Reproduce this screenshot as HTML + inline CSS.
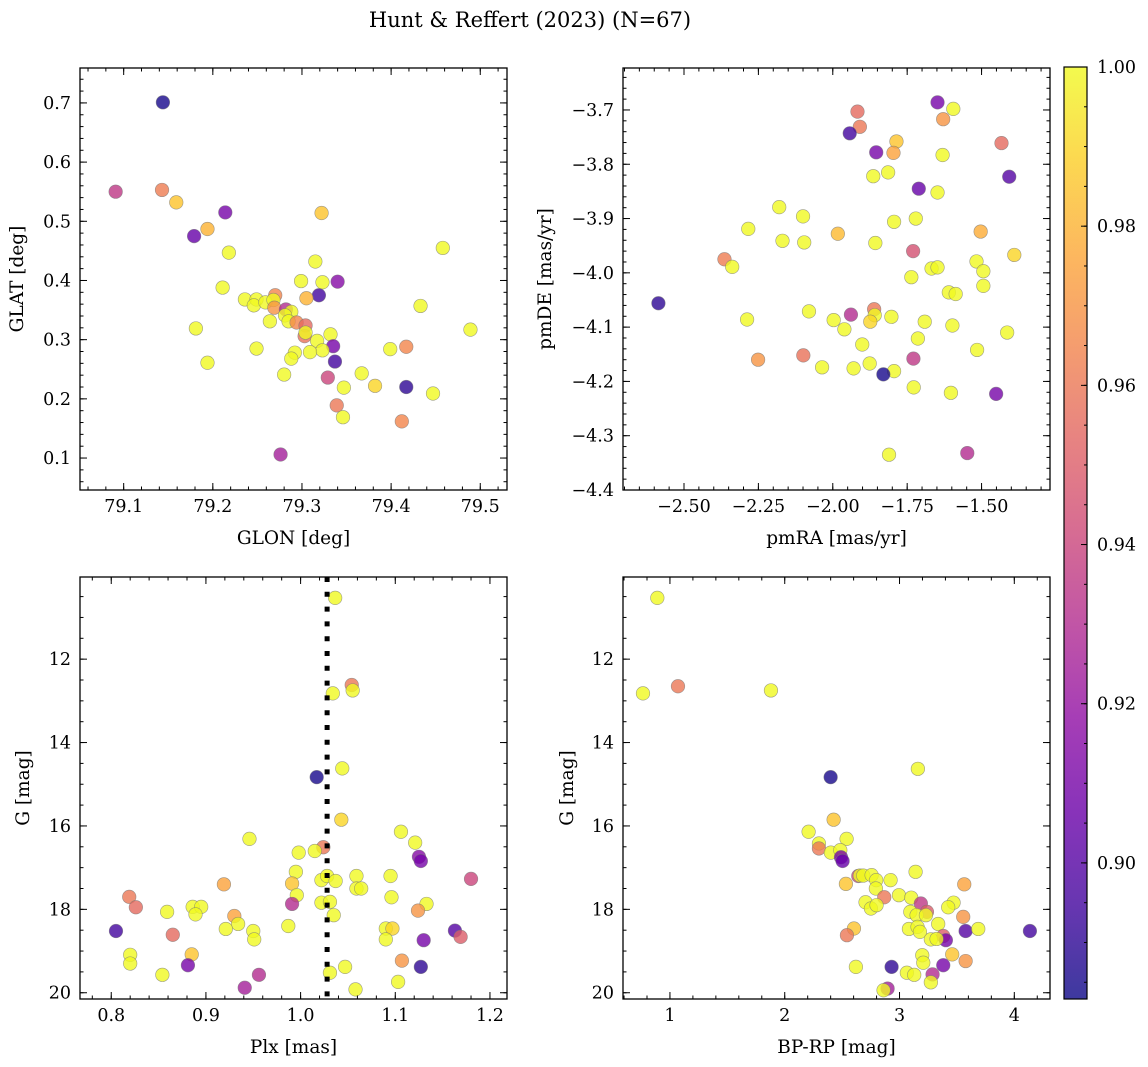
<!DOCTYPE html>
<html><head><meta charset="utf-8"><style>
html,body{margin:0;padding:0;background:#fff;}
svg{display:block;font-family:"DejaVu Serif","Liberation Serif",serif;}
</style></head><body>
<svg id="fig" width="1148" height="1067" viewBox="0 0 1148 1067">
<text x="530" y="27" font-size="21" text-anchor="middle">Hunt &amp; Reffert (2023) (N=67)</text>
</svg>
<script>
// Panel 1: GLON vs GLAT
const p1x=[79.144,79.091,79.143,79.159,79.214,79.179,79.194,79.218,79.322,79.458,79.315,79.299,79.323,79.340,79.319,79.305,79.211,79.270,79.236,79.249,79.246,79.259,79.268,79.269,79.282,79.288,79.281,79.285,79.264,79.294,79.304,79.303,79.304,79.433,79.181,79.489,79.332,79.317,79.335,79.323,79.309,79.292,79.288,79.249,79.194,79.337,79.399,79.417,79.280,79.329,79.367,79.347,79.382,79.417,79.447,79.339,79.346,79.412,79.276];
const p1y=[0.701,0.550,0.553,0.532,0.515,0.475,0.487,0.447,0.514,0.455,0.432,0.399,0.397,0.398,0.375,0.370,0.388,0.375,0.368,0.368,0.358,0.363,0.367,0.354,0.351,0.347,0.341,0.331,0.331,0.329,0.324,0.306,0.312,0.357,0.319,0.317,0.309,0.298,0.289,0.282,0.279,0.278,0.268,0.285,0.261,0.263,0.284,0.288,0.241,0.236,0.243,0.219,0.222,0.220,0.209,0.189,0.169,0.162,0.106];
const p1c=[0.885,0.935,0.962,0.985,0.91,0.905,0.98,1,0.985,1,1,1,1,0.915,0.895,0.98,1,0.965,1,1,1,1,1,0.97,0.93,1,1,1,1,0.965,0.955,0.958,1,1,1,1,1,1,0.91,1,1,1,1,1,1,0.895,1,0.965,1,0.94,1,1,0.99,0.89,1,0.96,1,0.965,0.925];
// Panel 2: pmRA vs pmDE
const p2x=[-1.648,-1.595,-1.917,-1.629,-1.909,-1.943,-1.433,-1.786,-1.854,-1.796,-1.631,-1.407,-1.864,-1.814,-1.711,-1.648,-2.180,-2.100,-1.794,-1.721,-2.284,-1.983,-1.503,-2.169,-2.096,-1.857,-1.730,-1.390,-2.364,-2.338,-1.668,-1.648,-1.517,-1.494,-1.736,-1.494,-1.610,-1.587,-2.586,-2.080,-1.861,-1.859,-1.874,-1.939,-1.803,-2.288,-1.997,-1.961,-1.691,-1.598,-1.414,-1.714,-1.901,-1.515,-2.099,-1.729,-2.251,-2.036,-1.930,-1.876,-1.794,-1.830,-1.728,-1.603,-1.451,-1.811,-1.548];
const p2y=[-3.686,-3.698,-3.703,-3.717,-3.731,-3.743,-3.761,-3.758,-3.778,-3.779,-3.783,-3.823,-3.822,-3.815,-3.845,-3.852,-3.879,-3.896,-3.906,-3.900,-3.919,-3.928,-3.924,-3.941,-3.944,-3.945,-3.960,-3.967,-3.975,-3.989,-3.992,-3.990,-3.979,-3.997,-4.008,-4.024,-4.036,-4.039,-4.056,-4.071,-4.067,-4.078,-4.090,-4.077,-4.081,-4.086,-4.087,-4.104,-4.090,-4.097,-4.110,-4.121,-4.132,-4.142,-4.152,-4.158,-4.160,-4.174,-4.176,-4.167,-4.181,-4.187,-4.211,-4.221,-4.223,-4.335,-4.332];
const p2c=[0.91,1,0.955,0.97,0.96,0.895,0.955,0.985,0.91,0.975,1,0.9,1,1,0.905,1,1,1,1,1,1,0.982,0.978,1,1,1,0.945,0.99,0.962,1,1,1,1,1,1,1,1,1,0.89,1,0.96,1,0.99,0.93,1,1,1,1,1,1,1,1,1,1,0.958,0.935,0.97,1,1,1,1,0.885,1,1,0.91,1,0.93];
// Panel 3: Plx vs G
const p3x=[1.0365,1.054,1.034,1.055,1.017,1.044,1.043,0.946,1.106,1.121,1.024,1.015,0.998,1.125,1.127,0.995,1.022,1.028,1.037,1.059,1.059,1.064,1.095,1.180,0.991,0.996,0.919,1.096,0.819,0.826,0.991,1.022,1.031,1.035,1.133,1.124,0.859,0.886,0.895,0.889,0.930,0.934,0.987,0.921,0.950,0.951,1.090,1.097,1.090,0.805,0.865,1.163,1.169,1.130,0.820,0.820,0.885,0.881,1.107,1.127,1.047,1.031,0.854,0.956,0.941,1.058,1.103];
const p3y=[10.53,12.62,12.82,12.75,14.83,14.62,15.85,16.31,16.14,16.40,16.51,16.60,16.64,16.74,16.84,17.10,17.30,17.20,17.32,17.20,17.50,17.50,17.20,17.27,17.38,17.66,17.40,17.71,17.70,17.95,17.87,17.84,17.82,18.14,17.87,18.03,18.06,17.94,17.94,18.12,18.16,18.35,18.40,18.47,18.52,18.72,18.46,18.46,18.72,18.52,18.61,18.51,18.66,18.74,19.09,19.30,19.08,19.34,19.23,19.38,19.38,19.52,19.57,19.57,19.88,19.92,19.74];
const p3c=[1,0.96,1,1,0.885,1,0.99,1,1,1,0.96,1,1,0.915,0.91,1,1,1,1,1,1,1,1,0.94,0.985,1,0.975,1,0.96,0.955,0.93,1,1,1,1,0.97,1,1,1,1,0.975,1,1,1,1,1,1,0.99,1,0.895,0.955,0.9,0.95,0.91,1,1,0.985,0.91,0.97,0.89,1,1,1,0.93,0.925,1,1];
const plxRef=[1.028];
// Panel 4: BP-RP vs G
const p4x=[0.890,0.765,1.070,1.880,2.400,3.160,2.426,2.208,2.539,2.298,2.298,2.402,2.484,2.490,2.504,3.140,2.641,2.655,2.684,2.757,2.797,2.922,2.533,2.794,3.564,2.867,2.995,3.102,2.704,2.751,2.800,3.186,3.471,3.424,3.239,3.094,3.149,3.230,3.555,3.337,2.603,2.542,3.082,3.157,3.178,3.576,3.686,4.136,3.381,3.404,3.273,3.323,3.459,3.576,3.198,3.207,3.381,2.931,2.620,3.064,3.128,3.288,3.273,2.896,2.861];
const p4y=[10.53,12.82,12.65,12.75,14.83,14.63,15.85,16.14,16.31,16.42,16.54,16.64,16.58,16.75,16.84,17.10,17.20,17.19,17.19,17.18,17.30,17.30,17.39,17.50,17.40,17.71,17.66,17.72,17.83,17.98,17.90,17.86,17.84,17.95,18.06,18.06,18.14,18.14,18.18,18.35,18.46,18.62,18.47,18.42,18.54,18.52,18.47,18.52,18.64,18.74,18.72,18.71,19.08,19.24,19.10,19.28,19.34,19.38,19.38,19.52,19.57,19.56,19.75,19.90,19.94];
const p4c=[1,1,0.96,1,0.885,1,0.985,1,1,1,0.96,1,1,0.91,0.905,1,0.94,1,1,1,1,1,0.985,1,0.975,0.96,1,1,1,1,1,0.935,1,1,0.95,1,1,1,0.97,1,0.985,0.96,1,1,1,0.9,1,0.895,0.95,0.91,1,1,0.985,0.97,1,1,0.91,0.89,1,1,1,0.93,1,0.925,1];
const cbTicks=[0.90,0.92,0.94,0.96,0.98,1.00];

const NS="http://www.w3.org/2000/svg";
const svg=document.getElementById('fig');
const cmin=0.8829,cmax=1.0;
const plasma=[[13,8,135],[65,4,157],[106,0,168],[143,13,164],[177,42,144],[204,71,120],[225,100,98],[242,132,75],[252,166,54],[252,206,37],[240,249,33]];
function cmap(v){let t=(v-cmin)/(cmax-cmin);t=Math.max(0,Math.min(1,t))*10;const i=Math.min(9,Math.floor(t)),f=t-i;const a=plasma[i],b=plasma[i+1];return 'rgb('+a.map((c,k)=>Math.round(c+(b[k]-c)*f)).join(',')+')';}
function el(tag,attrs,parent){const e=document.createElementNS(NS,tag);for(const k in attrs)e.setAttribute(k,attrs[k]);(parent||svg).appendChild(e);return e;}
function fmt(v,d){const s=Math.abs(v).toFixed(d);return (v<0?'\u2212':'')+s;}
const TF=17.5, LF=18.5;

function panel(cfg){
  const {L,T,R,B,x0,x1,y0,y1,name}=cfg;
  const sx=v=>L+(v-x0)/(x1-x0)*(R-L);
  const sy=v=>T+(v-y0)/(y1-y0)*(B-T);
  const g=el('g',{});
  
  
  const cp=el('clipPath',{id:name+'-clip'},g);el('rect',{x:L,y:T,width:R-L,height:B-T},cp);
  const pts=el('g',{'clip-path':'url(#'+name+'-clip)'},g);
  
  
  for(let i=0;i<cfg.xs.length;i++){
    const c=el('circle',{cx:sx(cfg.xs[i]),cy:sy(cfg.ys[i]),r:6.8,fill:cmap(cfg.cs[i]),'fill-opacity':0.8,stroke:'#777','stroke-opacity':0.7,'stroke-width':0.6},pts);
    
    
  }
  if(cfg.vline){const vx=sx(cfg.vline[0]);const ln=el('line',{x1:vx,x2:vx,y1:T,y2:B,stroke:'#000','stroke-width':5,'stroke-dasharray':'5 9.8'},g);
    
    }
  el('rect',{x:L,y:T,width:R-L,height:B-T,fill:'none',stroke:'#000','stroke-width':1.3},g);
  const tk=el('g',{stroke:'#000','stroke-width':1},g);
  const eps=1e-9;
  function range(a,b,s){const out=[];let v=Math.ceil(Math.min(a,b)/s-eps)*s;while(v<=Math.max(a,b)+eps){out.push(v);v+=s;}return out;}
  range(x0,x1,cfg.xmin).forEach(v=>{const x=sx(v);el('line',{x1:x,x2:x,y1:B,y2:B-3.5},tk);el('line',{x1:x,x2:x,y1:T,y2:T+3.5},tk);});
  range(y0,y1,cfg.ymin).forEach(v=>{const y=sy(v);el('line',{x1:L,x2:L+3.5,y1:y,y2:y},tk);el('line',{x1:R,x2:R-3.5,y1:y,y2:y},tk);});
  cfg.xt.forEach(v=>{const x=sx(v);el('line',{x1:x,x2:x,y1:B,y2:B-7},tk);el('line',{x1:x,x2:x,y1:T,y2:T+7},tk);
    const t=el('text',{x:x,y:B+22,'font-size':TF,'text-anchor':'middle'},g);t.textContent=fmt(v,cfg.xd);
    
    });
  cfg.yt.forEach(v=>{const y=sy(v);el('line',{x1:L,x2:L+7,y1:y,y2:y},tk);el('line',{x1:R,x2:R-7,y1:y,y2:y},tk);
    const t=el('text',{x:L-9,y:y+6,'font-size':TF,'text-anchor':'end'},g);t.textContent=fmt(v,cfg.yd);
    
    });
  const xl=el('text',{x:(L+R)/2,y:B+54,'font-size':LF,'text-anchor':'middle'},g);xl.textContent=cfg.xlab;
  
  
  const ylx=cfg.ylx;const yly=(T+B)/2;
  const yl=el('text',{x:ylx,y:yly,'font-size':LF,'text-anchor':'middle',transform:'rotate(-90 '+ylx+' '+yly+')'},g);yl.textContent=cfg.ylab;
  
  
}

panel({name:'glon-glat',L:80,T:68,R:507,B:490,x0:79.051,x1:79.530,y0:0.759,y1:0.046,xs:p1x,ys:p1y,cs:p1c,
  xt:[79.1,79.2,79.3,79.4,79.5],xd:1,yt:[0.1,0.2,0.3,0.4,0.5,0.6,0.7],yd:1,xmin:0.02,ymin:0.02,xlab:'GLON [deg]',ylab:'GLAT [deg]',ylx:23});
panel({name:'pm',L:623,T:68,R:1050,B:490,x0:-2.705,x1:-1.270,y0:-3.6227,y1:-4.4,xs:p2x,ys:p2y,cs:p2c,
  xt:[-2.5,-2.25,-2.0,-1.75,-1.5],xd:2,yt:[-4.4,-4.3,-4.2,-4.1,-4.0,-3.9,-3.8,-3.7],yd:1,xmin:0.05,ymin:0.02,xlab:'pmRA [mas/yr]',ylab:'pmDE [mas/yr]',ylx:551});
panel({name:'plx-g',L:80,T:577,R:507,B:999,x0:0.767,x1:1.218,y0:10.03,y1:20.15,xs:p3x,ys:p3y,cs:p3c,vline:plxRef,
  xt:[0.8,0.9,1.0,1.1,1.2],xd:1,yt:[12,14,16,18,20],yd:0,xmin:0.02,ymin:0.5,xlab:'Plx [mas]',ylab:'G [mag]',ylx:29});
panel({name:'cmd',L:623,T:577,R:1050,B:999,x0:0.591,x1:4.311,y0:10.03,y1:20.15,xs:p4x,ys:p4y,cs:p4c,
  xt:[1,2,3,4],xd:0,yt:[12,14,16,18,20],yd:0,xmin:0.2,ymin:0.5,xlab:'BP-RP [mag]',ylab:'G [mag]',ylx:573});

(function(){
  const L=1064,R=1087,T=67,B=999;
  const g=el('g',{});
  
  
  const defs=el('defs',{},g);
  const lg=el('linearGradient',{id:'cbg',x1:0,y1:1,x2:0,y2:0},defs);
  for(let i=0;i<=20;i++){const f=i/20;el('stop',{offset:f,'stop-color':cmap(cmin+f*(cmax-cmin))},lg);}
  el('rect',{x:L,y:T,width:R-L,height:B-T,fill:'url(#cbg)','fill-opacity':0.8},g);
  el('rect',{x:L,y:T,width:R-L,height:B-T,fill:'none',stroke:'#000','stroke-width':1.2},g);
  const sy=v=>B-(v-cmin)/(cmax-cmin)*(B-T);
  for(let v=0.885;v<=1.0001;v+=0.005){const y=sy(v);el('line',{x1:R,x2:R-3,y1:y,y2:y,stroke:'#000','stroke-width':1},g);}
  cbTicks.forEach(v=>{const y=sy(v);el('line',{x1:R,x2:R-6,y1:y,y2:y,stroke:'#000','stroke-width':1},g);
    const t=el('text',{x:R+10,y:y+6,'font-size':TF},g);t.textContent=v.toFixed(2);
    
    });
})();
</script>
</body></html>
